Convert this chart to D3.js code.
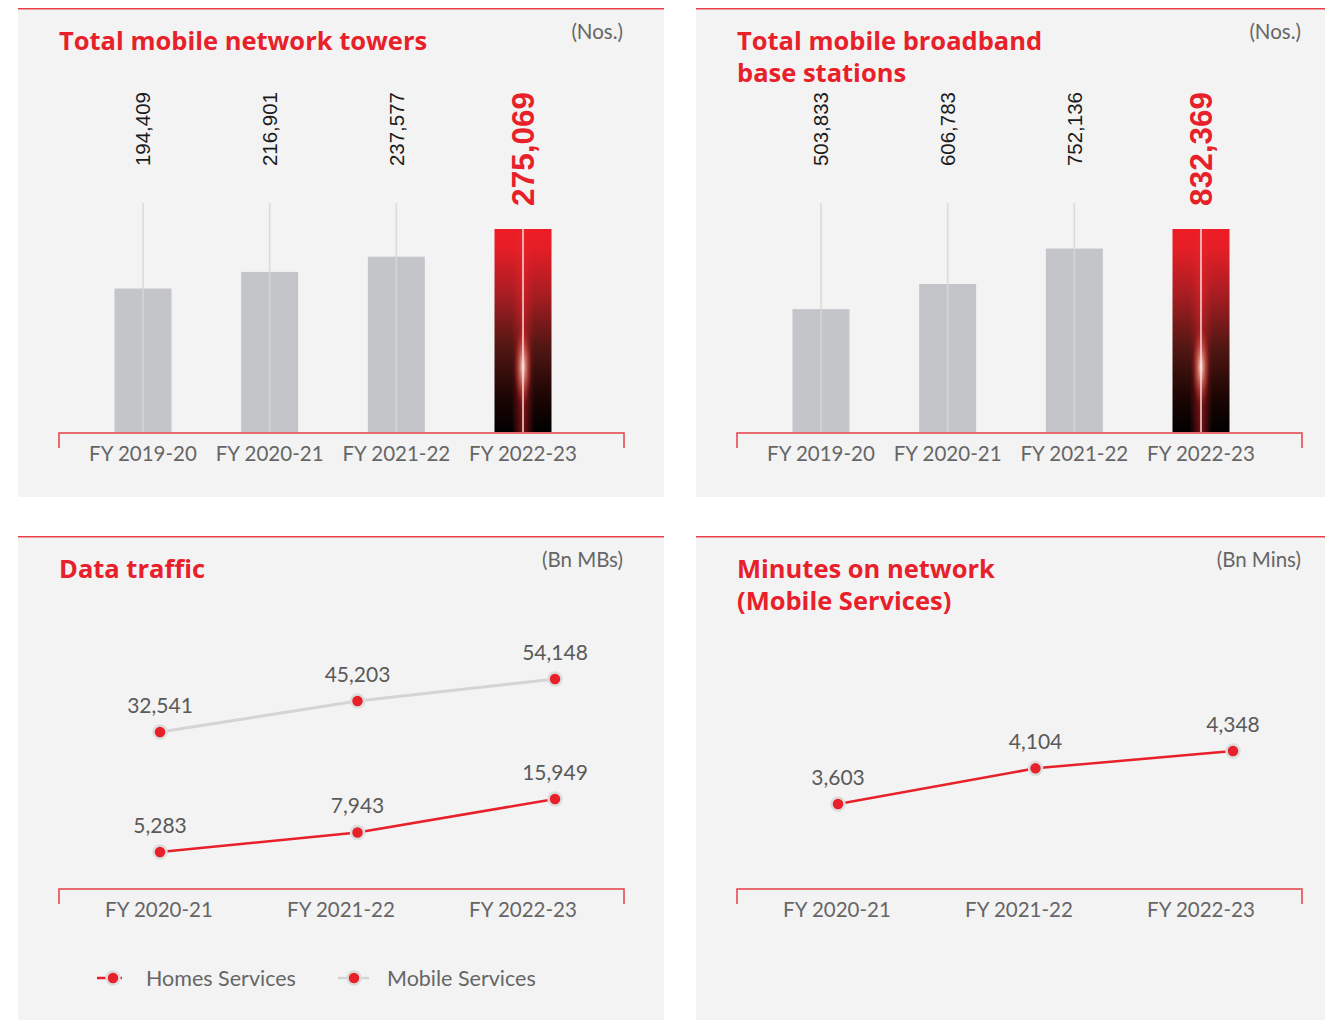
<!DOCTYPE html>
<html><head><meta charset="utf-8">
<script src="https://cdn.jsdelivr.net/npm/d3@7"></script>
<style>
html,body{margin:0;padding:0;background:#fff;}
svg{display:block;}
</style></head>
<body>
<svg id="chart" width="1325" height="1020"></svg>
<script>
// ---------- DATA ----------
const barCategories = ["FY 2019-20", "FY 2020-21", "FY 2021-22", "FY 2022-23"];
const towersValues = [194409, 216901, 237577, 275069];
const basestationValues = [503833, 606783, 752136, 832369];
const lineCategories = ["FY 2020-21", "FY 2021-22", "FY 2022-23"];
const homesTraffic = [5283, 7943, 15949];
const mobileTraffic = [32541, 45203, 54148];
const minutesValues = [3603, 4104, 4348];
const legendLabels = ["Homes Services", "Mobile Services"];

// ---------- STYLE ----------
const RED = "#e8202a";
const GREY_TXT = "#666";
const PANEL_BG = "#f3f3f3";
const titleFont = "'Open Sans', 'Noto Sans', sans-serif";
const bodyFont = "Lato, 'Open Sans', sans-serif";
const numFont = "'Liberation Sans', Arial, sans-serif";

const svg = d3.select("#chart");
const defs = svg.append("defs");

// gradient for highlighted bar
const vg = defs.append("linearGradient").attr("id", "barGrad").attr("x1", 0).attr("y1", 0).attr("x2", 0).attr("y2", 1);
[[0, "#ee1c25"], [0.1, "#e41e26"], [0.32, "#a81d22"], [0.58, "#521713"], [0.82, "#1e0604"], [1, "#000"]]
  .forEach(([o, c]) => vg.append("stop").attr("offset", o).attr("stop-color", c));
const hg = defs.append("linearGradient").attr("id", "barCenter").attr("x1", 0).attr("y1", 0).attr("x2", 1).attr("y2", 0);
[[0, "rgba(230,30,40,0)"], [0.3, "rgba(230,30,40,0)"], [0.5, "rgba(235,40,45,0.5)"], [0.7, "rgba(230,30,40,0)"], [1, "rgba(230,30,40,0)"]]
  .forEach(([o, c]) => hg.append("stop").attr("offset", o).attr("stop-color", c));
const rg = defs.append("radialGradient").attr("id", "barGlow");
[[0, "rgba(255,240,230,0.95)"], [0.35, "rgba(250,170,150,0.6)"], [1, "rgba(230,40,40,0)"]]
  .forEach(([o, c]) => rg.append("stop").attr("offset", o).attr("stop-color", c));

function panel(x, y, w, h) {
  const g = svg.append("g").attr("transform", `translate(${x},${y})`);
  g.append("rect").attr("width", w).attr("height", h).attr("fill", PANEL_BG);
  g.append("line").attr("x1", 0).attr("x2", w).attr("y1", 0.75).attr("y2", 0.75)
    .attr("stroke", "#e8404a").attr("stroke-width", 1.5);
  return g;
}

const AX0 = 41, AXW = 565;

function titles(g, lines, unit) {
  const t = g.append("text").attr("x", AX0).attr("y", 42)
    .attr("fill", RED).attr("font-family", titleFont).attr("font-weight", 700)
    .attr("font-size", 25.5);
  lines.forEach((l, i) => t.append("tspan").attr("x", AX0).attr("dy", i ? 32 : 0).text(l));
  g.append("text").attr("x", AX0 + AXW - 1).attr("y", 31).attr("text-anchor", "end")
    .attr("fill", GREY_TXT).attr("font-family", bodyFont).attr("font-size", 20.5).text(unit);
}

function axisBracket(g, x0, x1, y) {
  g.append("path")
    .attr("d", `M${x0},${y + 15}V${y}H${x1}V${y + 15}`)
    .attr("fill", "none").attr("stroke", "#e8404a").attr("stroke-width", 1.5);
}

function barPanel(px, py, w, h, lines, values) {
  const g = panel(px, py, w, h);
  titles(g, lines, "(Nos.)");
  const ax0 = AX0, ax1 = AX0 + AXW, base = 424;
  const x = d3.scalePoint().domain(barCategories).range([ax0 + 84, ax1 - 101]);
  const y = d3.scaleLinear().domain([0, d3.max(values)]).range([base, base - 203]);
  const bw = 57;
  const last = barCategories.length - 1;

  barCategories.forEach((c, i) => {
    const cx = x(c), v = values[i], top = y(v);
    if (i < last) {
      g.append("line").attr("x1", cx).attr("x2", cx).attr("y1", base - 229).attr("y2", top)
        .attr("stroke", "#d9d9d9").attr("stroke-width", 1.5);
      g.append("rect").attr("x", cx - bw / 2).attr("y", top).attr("width", bw).attr("height", base - top)
        .attr("fill", "#c4c5c9");
      g.append("line").attr("x1", cx).attr("x2", cx).attr("y1", top).attr("y2", base)
        .attr("stroke", "#d6d6d8").attr("stroke-width", 1.5);
      g.append("text").attr("transform", `translate(${cx},84) rotate(-90)`)
        .attr("text-anchor", "end").attr("dy", "0.36em")
        .attr("font-family", numFont).attr("font-size", 20.5).attr("fill", "#1b1b1b")
        .text(d3.format(",")(v));
    } else {
      g.append("rect").attr("x", cx - bw / 2).attr("y", top).attr("width", bw).attr("height", base - top)
        .attr("fill", "url(#barGrad)");
      g.append("rect").attr("x", cx - bw / 2).attr("y", top).attr("width", bw).attr("height", base - top)
        .attr("fill", "url(#barCenter)");
      const hgt = base - top;
      g.append("ellipse").attr("cx", cx).attr("cy", top + hgt * 0.68).attr("rx", 9).attr("ry", hgt * 0.2)
        .attr("fill", "url(#barGlow)");
      g.append("line").attr("x1", cx).attr("x2", cx).attr("y1", top).attr("y2", base)
        .attr("stroke", "rgba(255,225,225,0.9)").attr("stroke-width", 1.6);
      g.append("text").attr("transform", `translate(${cx},84) rotate(-90)`)
        .attr("text-anchor", "end").attr("dy", "0.36em")
        .attr("font-family", numFont).attr("font-weight", 700).attr("font-size", 31.5).attr("fill", RED)
        .text(d3.format(",")(v));
    }
    g.append("text").attr("x", cx).attr("y", 453).attr("text-anchor", "middle")
      .attr("font-family", bodyFont).attr("font-size", 20.5).attr("fill", GREY_TXT).text(c);
  });
  axisBracket(g, ax0, ax1, base + 1);
}

barPanel(18, 8, 646, 489, ["Total mobile network towers"], towersValues);
barPanel(696, 8, 629, 489, ["Total mobile broadband", "base stations"], basestationValues);

function drawSeries(g, xp, values, yTop, yBot, lineColor, lineW, scaleType) {
  const y = (scaleType || d3.scaleLinear)().domain([d3.min(values), d3.max(values)]).range([yBot, yTop]);
  const pts = lineCategories.map((c, i) => [xp(c), y(values[i]), values[i]]);
  g.append("path").attr("d", d3.line()(pts.map(p => [p[0], p[1]])))
    .attr("fill", "none").attr("stroke", lineColor).attr("stroke-width", lineW);
  pts.forEach(p => {
    g.append("circle").attr("cx", p[0]).attr("cy", p[1]).attr("r", 6.5)
      .attr("fill", RED).attr("stroke", "#dcdcdc").attr("stroke-width", 2.5);
    g.append("text").attr("x", p[0]).attr("y", p[1] - 19).attr("text-anchor", "middle")
      .attr("font-family", bodyFont).attr("font-size", 21).attr("fill", "#5a5a5a")
      .text(d3.format(",")(p[2]));
  });
}

function linePanel(px, py, w, h, lines, unit) {
  const g = panel(px, py, w, h);
  titles(g, lines, unit);
  const ax0 = AX0, ax1 = AX0 + AXW, base = 353;
  const xp = d3.scalePoint().domain(lineCategories).range([ax0 + 101, ax1 - 69]);
  const xl = d3.scalePoint().domain(lineCategories).range([ax0 + 100, ax1 - 101]);
  lineCategories.forEach(c => {
    g.append("text").attr("x", xl(c)).attr("y", 381).attr("text-anchor", "middle")
      .attr("font-family", bodyFont).attr("font-size", 20.5).attr("fill", GREY_TXT).text(c);
  });
  axisBracket(g, ax0, ax1, base);
  return { g, xp };
}

// Data traffic
const dt = linePanel(18, 536, 646, 484, ["Data traffic"], "(Bn MBs)");
drawSeries(dt.g, dt.xp, mobileTraffic, 143, 196, "#d4d4d4", 3, d3.scaleLinear);
drawSeries(dt.g, dt.xp, homesTraffic, 263, 316, RED, 2.5, d3.scaleLog);

// legend
const lg = dt.g.append("g").attr("transform", "translate(0,442)");
[[RED, true, 79], ["#d4d4d4", false, 320]].forEach(([col, dash, lx], i) => {
  const l = lg.append("line").attr("x1", lx).attr("x2", lx + 31).attr("y1", 0).attr("y2", 0)
    .attr("stroke", col).attr("stroke-width", 2.5);
  if (dash) l.attr("stroke-dasharray", "9,7");
  lg.append("circle").attr("cx", lx + 16).attr("cy", 0).attr("r", 6.5)
    .attr("fill", RED).attr("stroke", "#dcdcdc").attr("stroke-width", 2.5);
  lg.append("text").attr("x", lx + 49).attr("y", 0).attr("dy", "0.35em")
    .attr("font-family", bodyFont).attr("font-size", 21.5).attr("fill", GREY_TXT).text(legendLabels[i]);
});

// Minutes on network
const mn = linePanel(696, 536, 629, 484, ["Minutes on network", "(Mobile Services)"], "(Bn Mins)");
drawSeries(mn.g, mn.xp, minutesValues, 215, 268, RED, 2.5, d3.scaleLinear);
</script>
</body></html>
